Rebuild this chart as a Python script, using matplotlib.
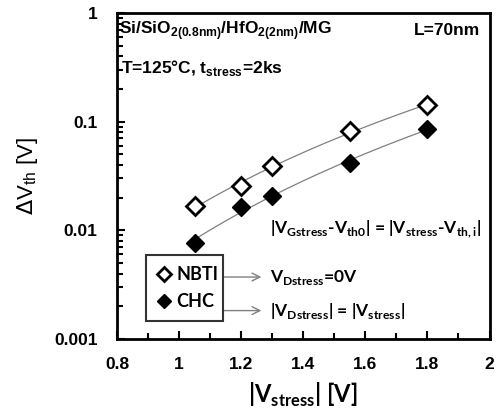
import numpy as np
import matplotlib.pyplot as plt
from matplotlib.ticker import FixedLocator, NullFormatter, LogLocator

# data
v_stress = [1.05, 1.2, 1.3, 1.55, 1.8]
dvth_nbti = [0.0168, 0.0256, 0.039, 0.082, 0.1425]
dvth_chc = [0.0077, 0.0164, 0.0207, 0.0417, 0.0857]

x_ticks = [0.8, 1.0, 1.2, 1.4, 1.6, 1.8, 2.0]
x_tick_labels = ['0.8', '1', '1.2', '1.4', '1.6', '1.8', '2']
y_ticks = [0.001, 0.01, 0.1, 1]
y_tick_labels = ['0.001', '0.01', '0.1', '1']

plt.rcParams['font.family'] = ['Liberation Sans', 'DejaVu Sans']

fig = plt.figure(figsize=(4.98, 4.2), dpi=100)
ax = fig.add_axes([0.235, 0.193, 0.748, 0.776])

# power-law trend lines (like excel)
def power_fit(x, y):
    p = np.polyfit(np.log(x), np.log(y), 1)
    xs = np.linspace(min(x), max(x), 100)
    return xs, np.exp(np.polyval(p, np.log(xs)))

for ys in (dvth_nbti, dvth_chc):
    xs, yf = power_fit(v_stress, ys)
    ax.plot(xs, yf, color='#808080', lw=0.9, zorder=2)

ax.plot(v_stress, dvth_nbti, ls='none', marker='D', ms=9, mfc='white',
        mec='black', mew=2, label='NBTI', zorder=3)
ax.plot(v_stress, dvth_chc, ls='none', marker='D', ms=9, mfc='black',
        mec='black', mew=1, label='CHC', zorder=3)

ax.set_yscale('log')
ax.set_xlim(0.8, 2.0)
ax.set_ylim(0.001, 1)

ax.xaxis.set_major_locator(FixedLocator(x_ticks))
ax.set_xticklabels(x_tick_labels)
ax.xaxis.set_minor_locator(FixedLocator(np.arange(0.9, 2.0, 0.2)))
ax.yaxis.set_major_locator(FixedLocator(y_ticks))
ax.set_yticklabels(y_tick_labels)
ax.yaxis.set_minor_locator(LogLocator(base=10, subs=np.arange(2, 10)))
ax.yaxis.set_minor_formatter(NullFormatter())

ax.tick_params(which='both', direction='in', width=1.5, labelsize=12.5)
ax.tick_params(axis='x', which='both', pad=13)
ax.tick_params(axis='y', which='both', pad=14)
ax.tick_params(which='major', length=6)
ax.tick_params(which='minor', length=4)
for lab in ax.get_xticklabels() + ax.get_yticklabels():
    lab.set_fontweight('bold')
for sp in ax.spines.values():
    sp.set_linewidth(2)

ax.set_xlabel(r'|V$_{\mathregular{stress}}$| [V]', fontsize=17, fontweight='bold',
              family='Lato', labelpad=6)
ax.set_ylabel(r'$\Delta$V$_{\mathregular{th}}$ [V]', fontsize=16, labelpad=10)

ax.text(0.005, 0.945, r'Si/SiO$_{\mathregular{2(0.8nm)}}$/HfO$_{\mathregular{2(2nm)}}$/MG',
        transform=ax.transAxes, fontsize=12.5, fontweight='bold', va='center')
ax.text(0.975, 0.945, 'L=70nm', transform=ax.transAxes, fontsize=12.5,
        fontweight='bold', va='center', ha='right')
ax.text(0.01, 0.83, r'T=125°C, t$_{\mathregular{stress}}$=2ks',
        transform=ax.transAxes, fontsize=12.5, fontweight='bold', va='center')

anno = dict(transform=ax.transAxes, fontsize=12.5, family='Lato',
            fontweight='bold', va='center')
ax.text(0.41, 0.335, r'|V$_{\mathregular{Gstress}}$-V$_{\mathregular{th0}}$| = '
        r'|V$_{\mathregular{stress}}$-V$_{\mathregular{th,i}}$|', **anno)
ax.text(0.41, 0.19, r'V$_{\mathregular{Dstress}}$=0V', **anno)
ax.text(0.41, 0.087, r'|V$_{\mathregular{Dstress}}$| = |V$_{\mathregular{stress}}$|', **anno)

for y in (0.19, 0.087):
    ax.annotate('', xy=(0.395, y), xytext=(0.28, y), xycoords='axes fraction',
                arrowprops=dict(arrowstyle='->', color='#808080', lw=1,
                                mutation_scale=14))

leg = ax.legend(loc='lower left', bbox_to_anchor=(0.053, 0.028, 0.256, 0.214),
                mode='expand', frameon=True, fancybox=False,
                handlelength=0.8, handletextpad=0.3, borderpad=0.6,
                labelspacing=0.55, prop={'family': 'Lato', 'weight': 'bold', 'size': 13})
leg.get_frame().set_edgecolor('black')
leg.get_frame().set_linewidth(1.5)
for h in leg.legend_handles:
    h.set_markersize(7)

fig.savefig('out.png', dpi=100)
